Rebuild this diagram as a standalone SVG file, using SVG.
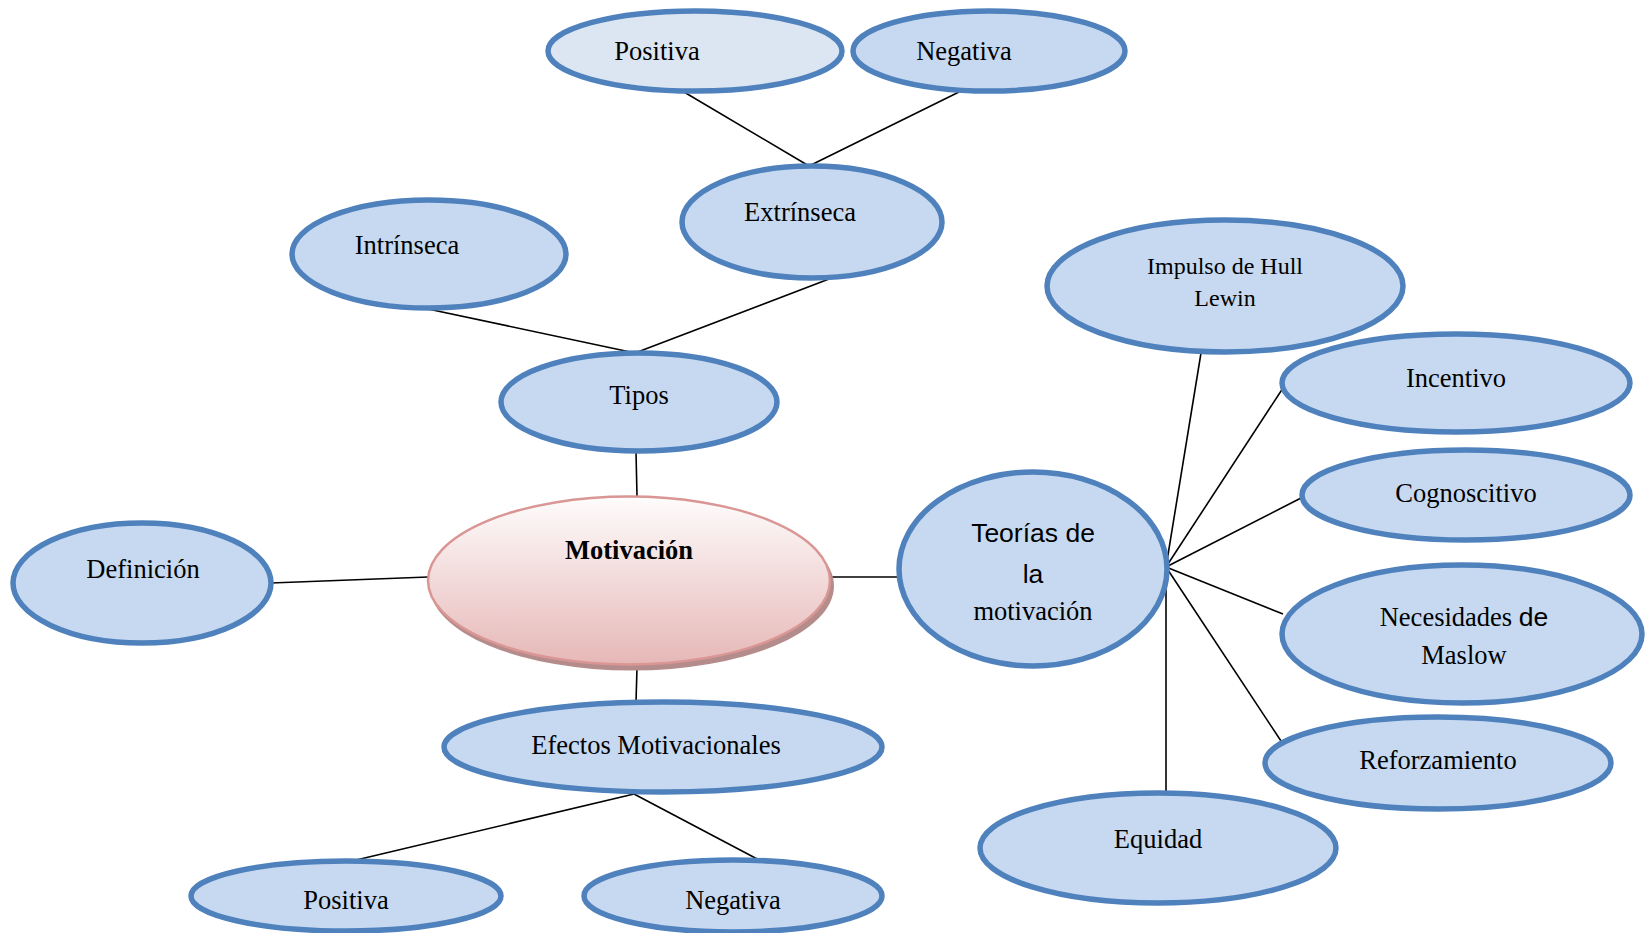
<svg xmlns="http://www.w3.org/2000/svg" width="1646" height="933" viewBox="0 0 1646 933">
  <defs>
    <linearGradient id="coreFill" x1="0" y1="0" x2="0" y2="1">
      <stop offset="0" stop-color="#fefcfc"/>
      <stop offset="1" stop-color="#e6b8b7"/>
    </linearGradient>
    <style>
      .node { fill: #c6d9f1; stroke: #4f81bd; stroke-width: 5.5; }
      .light { fill: #dce6f2; }
      .lbl { font-family: "Liberation Serif", "Times New Roman", serif; font-size: 26.5px; fill: #000; text-anchor: middle; }
      .sans { font-family: "Liberation Sans", Arial, sans-serif; }
      .small { font-size: 24px; }
      .conn line { stroke: #000; stroke-width: 1.6; }
    </style>
  </defs>
  <rect width="1646" height="933" fill="#ffffff"/>

  <g id="connectors" class="conn">
    <line x1="684" y1="92" x2="809" y2="166"/>
    <line x1="959" y1="92" x2="809" y2="166"/>
    <line x1="428" y1="309" x2="635" y2="353"/>
    <line x1="829" y1="279" x2="635" y2="353"/>
    <line x1="636" y1="452" x2="637" y2="496"/>
    <line x1="428" y1="577" x2="271" y2="583"/>
    <line x1="829" y1="577" x2="898" y2="577"/>
    <line x1="637" y1="668" x2="636" y2="702"/>
    <line x1="634" y1="794" x2="352" y2="861"/>
    <line x1="634" y1="794" x2="761" y2="861"/>
    <line x1="1166" y1="567" x2="1201" y2="353"/>
    <line x1="1166" y1="567" x2="1283" y2="388"/>
    <line x1="1166" y1="567" x2="1303" y2="497"/>
    <line x1="1166" y1="567" x2="1283" y2="614"/>
    <line x1="1166" y1="567" x2="1283" y2="744"/>
    <line x1="1166" y1="567" x2="1166" y2="794"/>
  </g>

  <g id="positiva-top">
    <ellipse class="node light" cx="695" cy="51" rx="147" ry="40"/>
    <text class="lbl" x="657" y="60">Positiva</text>
  </g>
  <g id="negativa-top">
    <ellipse class="node" cx="989" cy="51" rx="136" ry="40"/>
    <text class="lbl" x="964" y="60">Negativa</text>
  </g>
  <g id="extrinseca">
    <ellipse class="node" cx="812" cy="222" rx="130" ry="56"/>
    <text class="lbl" x="800" y="221">Extrínseca</text>
  </g>
  <g id="intrinseca">
    <ellipse class="node" cx="429" cy="254" rx="137" ry="54"/>
    <text class="lbl" x="407" y="254">Intrínseca</text>
  </g>
  <g id="tipos">
    <ellipse class="node" cx="639" cy="402" rx="138" ry="49"/>
    <text class="lbl" x="639" y="404">Tipos</text>
  </g>
  <g id="motivacion">
    <ellipse cx="632" cy="586" rx="202" ry="84.5" fill="#b48c8b"/>
    <ellipse cx="629" cy="580.5" rx="201" ry="84" fill="url(#coreFill)" stroke="#d99694" stroke-width="2.5"/>
    <text class="lbl" x="629" y="559" font-weight="bold">Motivación</text>
  </g>
  <g id="definicion">
    <ellipse class="node" cx="142" cy="583" rx="129" ry="60"/>
    <text class="lbl" x="143" y="578">Definición</text>
  </g>
  <g id="teorias">
    <ellipse class="node" cx="1033" cy="569" rx="134" ry="97"/>
    <text class="lbl sans" x="1033" y="542">Teorías de</text>
    <text class="lbl sans" x="1033" y="583">la</text>
    <text class="lbl" x="1033" y="620">motivación</text>
  </g>
  <g id="impulso">
    <ellipse class="node" cx="1225" cy="286" rx="178" ry="66"/>
    <text class="lbl small" x="1225" y="274">Impulso de Hull</text>
    <text class="lbl small" x="1225" y="306">Lewin</text>
  </g>
  <g id="incentivo">
    <ellipse class="node" cx="1456" cy="383" rx="174" ry="49"/>
    <text class="lbl" x="1456" y="387">Incentivo</text>
  </g>
  <g id="cognoscitivo">
    <ellipse class="node" cx="1466" cy="495" rx="164" ry="45"/>
    <text class="lbl" x="1466" y="502">Cognoscitivo</text>
  </g>
  <g id="maslow">
    <ellipse class="node" cx="1462" cy="634" rx="180" ry="69"/>
    <text class="lbl" x="1464" y="626">Necesidades <tspan class="sans">de</tspan></text>
    <text class="lbl" x="1464" y="664">Maslow</text>
  </g>
  <g id="reforzamiento">
    <ellipse class="node" cx="1438" cy="763" rx="173" ry="46"/>
    <text class="lbl" x="1438" y="769">Reforzamiento</text>
  </g>
  <g id="equidad">
    <ellipse class="node" cx="1158" cy="848" rx="178" ry="55"/>
    <text class="lbl" x="1158" y="848">Equidad</text>
  </g>
  <g id="efectos">
    <ellipse class="node" cx="663" cy="747" rx="219" ry="45"/>
    <text class="lbl" x="656" y="754">Efectos Motivacionales</text>
  </g>
  <g id="positiva-bottom">
    <ellipse class="node" cx="346" cy="896" rx="155" ry="35"/>
    <text class="lbl" x="346" y="909">Positiva</text>
  </g>
  <g id="negativa-bottom">
    <ellipse class="node" cx="733" cy="896" rx="149" ry="36"/>
    <text class="lbl" x="733" y="909">Negativa</text>
  </g>
</svg>
